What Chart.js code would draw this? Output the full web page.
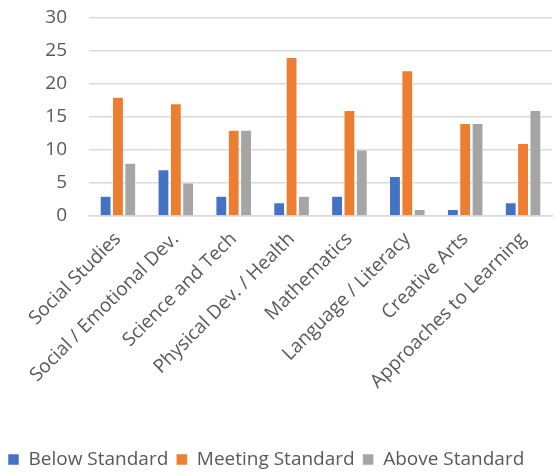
<!DOCTYPE html>
<html>
<head>
<meta charset="utf-8">
<script src="https://cdn.jsdelivr.net/npm/chart.js@4/dist/chart.umd.min.js"></script>
<style>
  html, body { margin: 0; padding: 0; background: #fff; overflow: hidden; }
  #wrap { width: 555px; height: 479px; }
</style>
</head>
<body>
<div id="wrap"><canvas id="chart"></canvas></div>
<script>
const categories = ['Social Studies', 'Social / Emotional Dev.', 'Science and Tech', 'Physical Dev. / Health',
  'Mathematics', 'Language / Literacy', 'Creative Arts', 'Approaches to Learning'];
const belowStandard = [3, 7, 3, 2, 3, 6, 1, 2];
const meetingStandard = [18, 17, 13, 24, 16, 22, 14, 11];
const aboveStandard = [8, 5, 13, 3, 10, 1, 14, 16];
const yMax = 30;
const yStep = 5;

Chart.defaults.font.family = '"Open Sans", sans-serif';
Chart.defaults.color = '#595959';

const ctx = document.getElementById('chart').getContext('2d');
new Chart(ctx, {
  type: 'bar',
  data: {
    labels: categories,
    datasets: [{
      label: 'Below Standard',
      data: belowStandard,
      backgroundColor: '#4472C4'
    }, {
      label: 'Meeting Standard',
      data: meetingStandard,
      backgroundColor: '#ED7D31'
    }, {
      label: 'Above Standard',
      data: aboveStandard,
      backgroundColor: '#A5A5A5'
    }]
  },
  options: {
    responsive: true,
    maintainAspectRatio: false,
    animation: false,
    datasets: {
      bar: {
        categoryPercentage: 0.64,
        barPercentage: 0.88,
        borderColor: '#ffffff',
        borderWidth: 0.5
      }
    },
    layout: { padding: { top: 18, right: 3, left: 0, bottom: 0 } },
    plugins: {
      legend: {
        position: 'bottom',
        align: 'start',
        labels: {
          boxWidth: 11,
          boxHeight: 11,
          padding: 8,
          font: { size: 19 }
        }
      },
      tooltip: { enabled: false }
    },
    scales: {
      x: {
        grid: { display: false },
        border: { color: '#D9D9D9', width: 1.5 },
        ticks: {
          autoSkip: false,
          maxRotation: 45,
          minRotation: 45,
          padding: 4,
          font: { size: 19 }
        },
        afterFit: function(axis) {
          axis.height = 226;
          axis.paddingTop = 0;
          axis.paddingLeft = 0;
        }
      },
      y: {
        min: 0,
        max: yMax,
        grid: { color: '#D9D9D9', lineWidth: 1.5, drawTicks: false },
        border: { display: false },
        ticks: {
          stepSize: yStep,
          padding: 22,
          font: { size: 19 }
        },
        afterFit: function(axis) {
          axis.width = 89;
          axis.paddingTop = 0;
          axis.paddingBottom = 0;
        }
      }
    }
  }
});
</script>
</body>
</html>
